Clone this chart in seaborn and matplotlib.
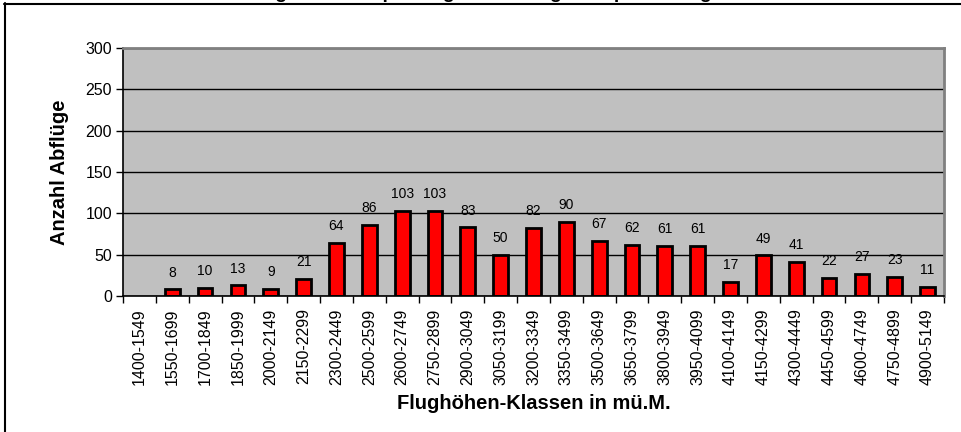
import numpy as np
import pandas as pd
import matplotlib
matplotlib.use("Agg")
import matplotlib.pyplot as plt
from matplotlib.lines import Line2D
import seaborn as sns

# Flughöhen-Klassen und Anzahl Abflüge (erste Klasse ohne Wert)
klassen = ["1400-1549", "1550-1699", "1700-1849", "1850-1999", "2000-2149",
           "2150-2299", "2300-2449", "2500-2599", "2600-2749", "2750-2899",
           "2900-3049", "3050-3199", "3200-3349", "3350-3499", "3500-3649",
           "3650-3799", "3800-3949", "3950-4099", "4100-4149", "4150-4299",
           "4300-4449", "4450-4599", "4600-4749", "4750-4899", "4900-5149"]
abfluege = [np.nan, 8, 10, 13, 9, 21, 64, 86, 103, 103, 83, 50, 82, 90, 67,
            62, 61, 61, 17, 49, 41, 22, 27, 23, 11]
y_ticks = [0, 50, 100, 150, 200, 250, 300]

sns.set_style("white")
plt.rcParams['font.family'] = ['Liberation Sans', 'DejaVu Sans']
plt.rcParams['text.color'] = 'black'
plt.rcParams['axes.labelcolor'] = 'black'
plt.rcParams['xtick.color'] = 'black'
plt.rcParams['ytick.color'] = 'black'

df = pd.DataFrame({"Klasse": klassen, "Anzahl": abfluege})

fig = plt.figure(figsize=(9.62, 4.32), dpi=100)
ax = fig.add_axes([123 / 962, 1 - 296 / 432, (944 - 123) / 962, (296 - 48) / 432])
ax.set_facecolor("#C0C0C0")

sns.barplot(data=df.dropna(), x="Klasse", y="Anzahl", order=klassen,
            color="#FF0000", edgecolor="black", linewidth=2,
            width=0.45, saturation=1, ax=ax)

for c in ax.containers:
    ax.bar_label(c, fmt="%d", padding=7, fontsize=10)

ax.set_xlim(-0.5, len(klassen) - 0.5)
ax.set_ylim(0, 300)
ax.set_yticks(y_ticks)
ax.yaxis.grid(True, color="black", linewidth=1)
ax.set_axisbelow(True)

ax.set_xticks(range(len(klassen)))
ax.set_xticklabels(klassen, rotation=90, fontsize=11.5)
ax.set_xticks(np.arange(-0.5, len(klassen)), minor=True)
ax.tick_params(axis="x", which="major", length=0, pad=9)
ax.tick_params(axis="x", which="minor", length=5, width=1, color="black", direction="out", bottom=True)
ax.tick_params(axis="y", length=5, width=1, color="black", direction="out", left=True, labelsize=11.5, pad=3)

for s in ["left", "bottom"]:
    ax.spines[s].set_color("black")
    ax.spines[s].set_linewidth(1.2)
for s in ["top", "right"]:
    ax.spines[s].set_color("#808080")
    ax.spines[s].set_linewidth(2)

ax.set_xlabel("Flughöhen-Klassen in mü.M.", fontsize=14.5, fontweight="bold", labelpad=6)
ax.set_ylabel("Anzahl Abflüge", fontsize=14.5, fontweight="bold", labelpad=12)

# Rahmen um das Diagramm (rechts und unten abgeschnitten)
fig.add_artist(Line2D([4.5 / 962, 4.5 / 962], [0, 1 - 3 / 432], color="black", lw=1.5, transform=fig.transFigure))
fig.add_artist(Line2D([4 / 962, 1], [1 - 3.5 / 432, 1 - 3.5 / 432], color="black", lw=1.5, transform=fig.transFigure))

# Titel fast vollständig abgeschnitten, nur Unterlängen sichtbar
fig.text(0.47, 1 + 2.5 / 432, "Verteilung aller Startplätze gemäss Flughöhe pro Abflug",
         ha="center", va="baseline", fontsize=14, fontweight="bold")

fig.savefig("out.png", dpi=100)
